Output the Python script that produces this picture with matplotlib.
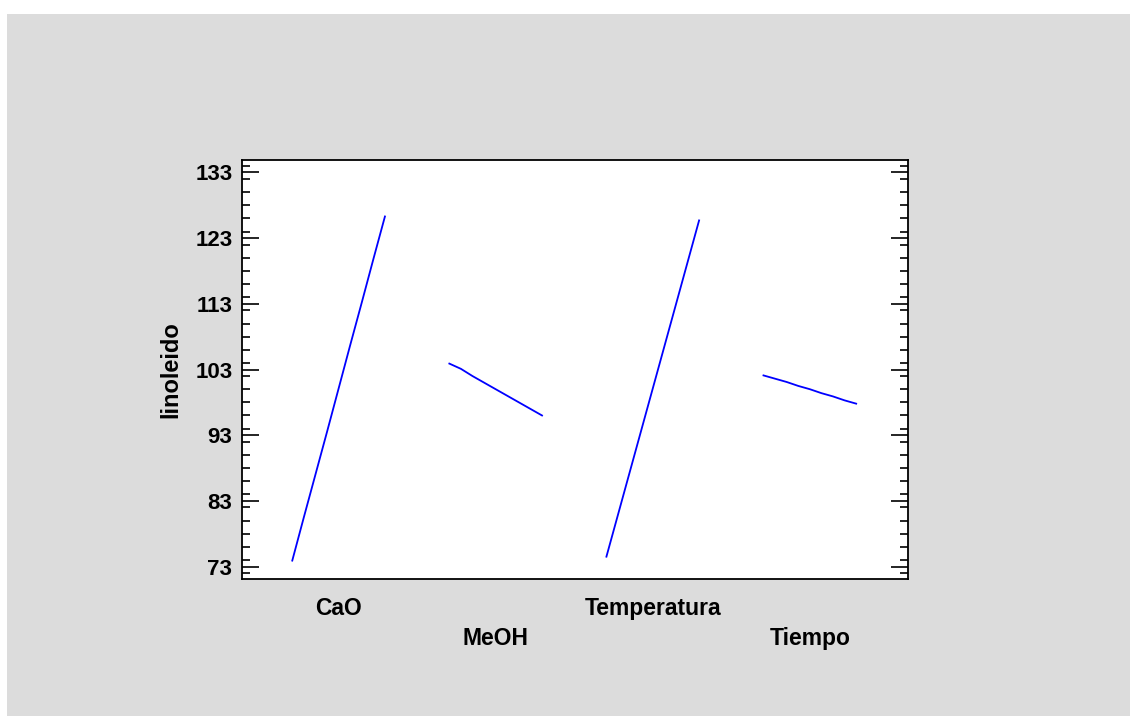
import numpy as np
import matplotlib.pyplot as plt
from matplotlib.patches import Rectangle
from matplotlib.ticker import MultipleLocator

# Main effects for linoleido (low -> high level of each factor)
factors = ["CaO", "MeOH", "Temperatura", "Tiempo"]
cao = [73.9, 80.5, 87.0, 93.5, 100.1, 106.7, 113.2, 119.8, 126.3]
meoh = [103.9, 103.1, 102.0, 101.0, 100.0, 99.0, 98.0, 97.0, 96.0]
temperatura = [74.5, 80.9, 87.3, 93.7, 100.1, 106.5, 112.9, 119.3, 125.7]
tiempo = [102.1, 101.6, 101.1, 100.5, 100.0, 99.4, 98.9, 98.3, 97.8]
effects = [cao, meoh, temperatura, tiempo]
yticks = [73, 83, 93, 103, 113, 123, 133]

plt.rcParams['font.family'] = ['Liberation Sans', 'DejaVu Sans']

fig = plt.figure(figsize=(11.3, 7.16), dpi=100)
fig.patch.set_facecolor("white")
# grey panel behind the plot
fig.patches.append(Rectangle((7 / 1130, 0), 1, 1 - 14 / 716, transform=fig.transFigure,
                             facecolor="#DCDCDC", edgecolor="none", zorder=-1))

ax = fig.add_axes([242 / 1130, 1 - 579 / 716, 666 / 1130, 419 / 716])
ax.set_facecolor("white")

width = 0.59
for i, vals in enumerate(effects):
    x = np.linspace(i, i + width, len(vals))
    ax.plot(x, vals, color="#0000FF", lw=1.3)

ax.set_xlim(-0.32, 3.92)
ax.set_ylim(71.1, 134.9)
ax.set_xticks([])
ax.set_yticks(yticks)
ax.yaxis.set_minor_locator(MultipleLocator(2))
ax.tick_params(axis="y", which="major", direction="in", length=12, width=1.2,
               right=True, labelsize=16, pad=7)
ax.tick_params(axis="y", which="minor", direction="in", length=6, width=1.2, right=True)
for lab in ax.get_yticklabels():
    lab.set_fontweight("bold")
for s in ax.spines.values():
    s.set_linewidth(1.3)

ax.set_ylabel("linoleido", fontsize=17, fontweight="bold", labelpad=9)

# staggered factor labels under the axis
for i, name in enumerate(factors):
    yoff = -0.07 if i % 2 == 0 else -0.142
    ax.text(i + width / 2, yoff, name, transform=ax.get_xaxis_transform(),
            ha="center", va="center", fontsize=16.5, fontweight="bold")

fig.savefig("out.png", dpi=100, facecolor=fig.get_facecolor())
